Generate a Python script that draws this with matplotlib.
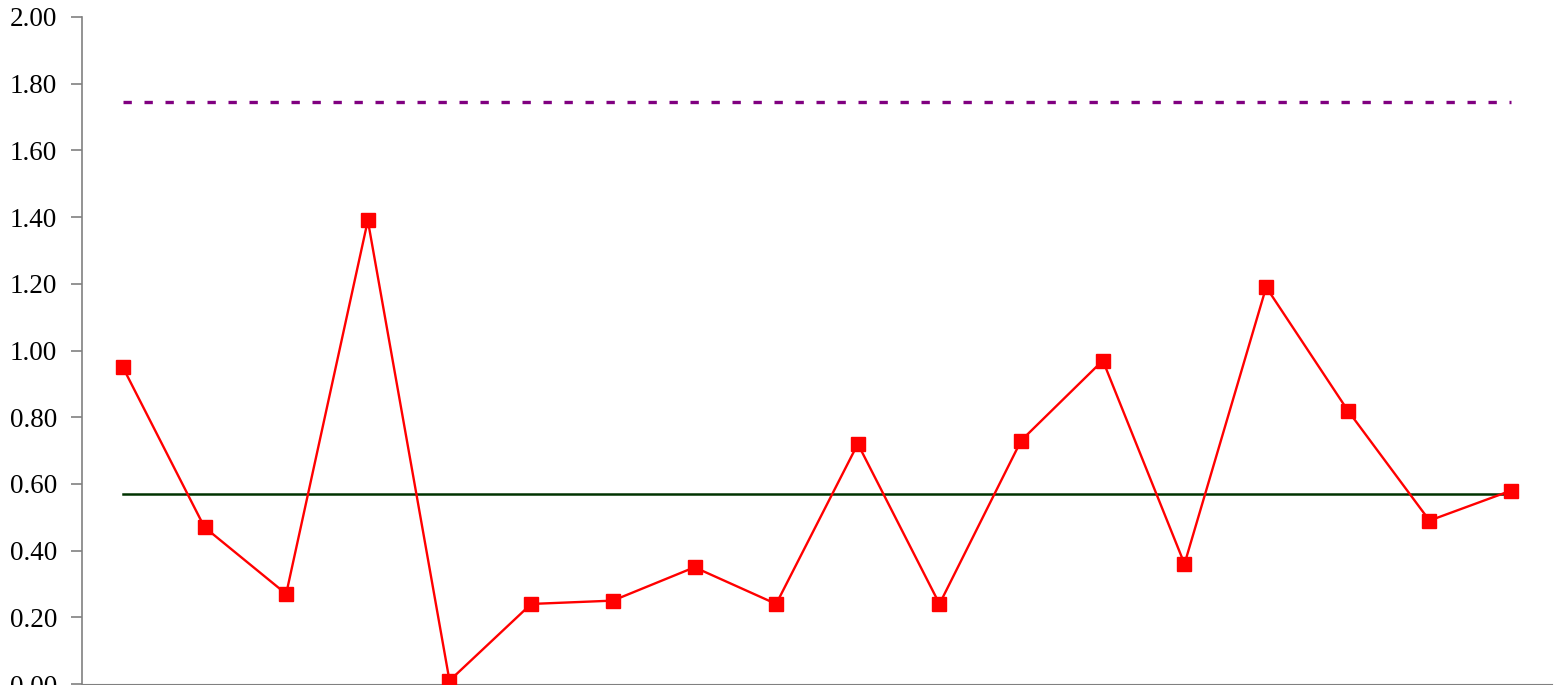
import matplotlib
matplotlib.use("Agg")
import matplotlib.pyplot as plt
import numpy as np

values = [0.95, 0.47, 0.27, 1.39, 0.01, 0.24, 0.25, 0.35, 0.24, 0.72,
          0.24, 0.73, 0.97, 0.36, 1.19, 0.82, 0.49, 0.58]
center_line = 0.57
upper_limit = 1.745
yticks = [0.0, 0.2, 0.4, 0.6, 0.8, 1.0, 1.2, 1.4, 1.6, 1.8, 2.0]

plt.rcParams['font.family'] = ['Liberation Serif', 'DejaVu Serif']

fig = plt.figure(figsize=(15.56, 6.85), dpi=100)
ax = fig.add_axes([82/1556, 1/685, (1552-82)/1556, 667/685])

x = np.arange(len(values))
ax.plot([x[0], x[-1]], [upper_limit, upper_limit], color='#800080', lw=2.4,
        linestyle=(0, (2.5, 3.8)), solid_capstyle='butt', zorder=2)
ax.plot([x[0], x[-1]], [center_line, center_line], color='#003300', lw=1.8, zorder=2)
ax.plot(x, values, color='#ff0000', lw=1.7, marker='s', markersize=10.5,
        markerfacecolor='#ff0000', markeredgecolor='#ff0000', zorder=3, clip_on=False)

ax.set_xlim(-0.5, len(values) - 0.5)
ax.set_ylim(0, 2.0)
ax.set_yticks(yticks)
ax.set_yticklabels([f"{t:.2f}" for t in yticks], fontsize=19.5)
ax.set_xticks([])
for s in ['top', 'right']:
    ax.spines[s].set_visible(False)
ax.spines['left'].set_color('#808080')
ax.spines['bottom'].set_color('#808080')
ax.spines['left'].set_linewidth(1.2)
ax.tick_params(axis='y', direction='out', length=8, width=1.2, color='#808080', pad=10)

fig.savefig('out.png', dpi=100)
